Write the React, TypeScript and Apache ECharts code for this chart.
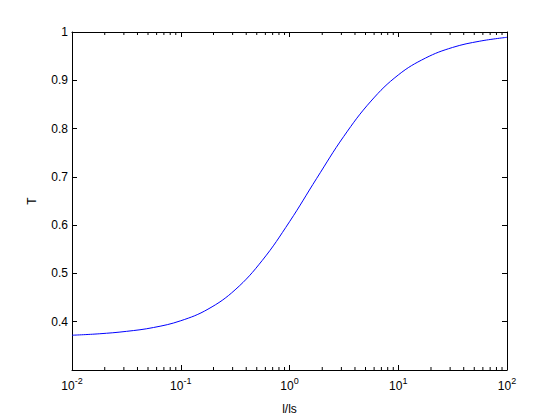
import React, { useEffect, useRef } from "react";
import * as echarts from "echarts";

const xValues = [0.01, 0.0178, 0.0316, 0.0562, 0.1, 0.178, 0.316, 0.562, 1, 1.78, 3.16, 5.62, 10, 17.8, 31.6, 56.2, 100];
const tValues = [0.372, 0.375, 0.38, 0.388, 0.402, 0.426, 0.466, 0.527, 0.607, 0.697, 0.784, 0.857, 0.911, 0.946, 0.968, 0.981, 0.989];
const minorTicks = [
  0.02, 0.03, 0.04, 0.05, 0.06, 0.07, 0.08, 0.09,
  0.2, 0.3, 0.4, 0.5, 0.6, 0.7, 0.8, 0.9,
  2, 3, 4, 5, 6, 7, 8, 9,
  20, 30, 40, 50, 60, 70, 80, 90,
];
const xLabel = "l/ls";
const yLabel = "T";

const FONT = "Liberation Sans, Arial, Helvetica, sans-serif";

export default function App() {
  const ref = useRef<HTMLDivElement>(null);
  useEffect(() => {
    if (!ref.current) return;
    const chart = echarts.init(ref.current, null, { renderer: "svg" });
    const axisLine = { show: true, lineStyle: { color: "#000", width: 1 } };
    const option: any = {
      animation: false,
      backgroundColor: "#fff",
      grid: { left: 72, right: 53, top: 32, bottom: 46 },
      xAxis: [
        {
          type: "log",
          logBase: 10,
          min: 0.01,
          max: 100,
          position: "bottom",
          axisLine,
          axisTick: { show: true, inside: true, length: 5, lineStyle: { color: "#000" } },
          splitLine: { show: false },
          axisLabel: {
            margin: 6,
            formatter: (v: number) => {
              const e = Math.round(Math.log10(v));
              return "{b|10}{s|" + e + "}";
            },
            rich: {
              b: { fontSize: 12, fontFamily: FONT, color: "#000", lineHeight: 16, verticalAlign: "bottom" },
              s: { fontSize: 9, fontFamily: FONT, color: "#000", lineHeight: 16, verticalAlign: "top" },
            },
          },
          name: xLabel,
          nameLocation: "middle",
          nameGap: 33,
          nameTextStyle: { fontSize: 12, fontFamily: FONT, color: "#000" },
        },
        {
          type: "log",
          logBase: 10,
          min: 0.01,
          max: 100,
          position: "top",
          axisLine,
          axisTick: { show: true, inside: true, length: 5, lineStyle: { color: "#000" } },
          axisLabel: { show: false },
          splitLine: { show: false },
        },
      ],
      yAxis: [
        {
          type: "value",
          min: 0.3,
          max: 1,
          interval: 0.1,
          position: "left",
          axisLine,
          axisTick: { show: true, inside: true, length: 5, lineStyle: { color: "#000" } },
          splitLine: { show: false },
          axisLabel: {
            margin: 4,
            fontSize: 12,
            fontFamily: FONT,
            color: "#000",
            formatter: (v: number) => {
              const r = Math.round(v * 10) / 10;
              if (Math.abs(r - 0.3) < 1e-9) return "";
              return String(r);
            },
          },
          name: yLabel,
          nameLocation: "middle",
          nameGap: 34,
          nameTextStyle: { fontSize: 12, fontFamily: FONT, color: "#000" },
        },
        {
          type: "value",
          min: 0.3,
          max: 1,
          interval: 0.1,
          position: "right",
          axisLine,
          axisTick: { show: true, inside: true, length: 5, lineStyle: { color: "#000" } },
          axisLabel: { show: false },
          splitLine: { show: false },
        },
      ],
      series: [
        {
          type: "line",
          xAxisIndex: 0,
          yAxisIndex: 0,
          data: xValues.map((x, i) => [x, tValues[i]]),
          showSymbol: false,
          smooth: 0.4,
          lineStyle: { color: "#0000ff", width: 1 },
          itemStyle: { color: "#0000ff" },
        },
        {
          type: "custom",
          xAxisIndex: 0,
          yAxisIndex: 0,
          clip: false,
          data: minorTicks.map((v) => [v, 0.3]),
          renderItem: (params: any, api: any) => {
            const v = api.value(0);
            const b = api.coord([v, 0.3]);
            const t = api.coord([v, 1]);
            const style = { stroke: "#000", lineWidth: 1 };
            return {
              type: "group",
              children: [
                { type: "line", shape: { x1: b[0], y1: b[1], x2: b[0], y2: b[1] - 3 }, style },
                { type: "line", shape: { x1: t[0], y1: t[1], x2: t[0], y2: t[1] + 3 }, style },
              ],
            };
          },
        },
      ],
    };
    chart.setOption(option);
    return () => chart.dispose();
  }, []);
  return (
    <div
      ref={ref}
      style={{ position: "fixed", left: 0, top: 0, width: 560, height: 420, background: "#fff" }}
    />
  );
}
